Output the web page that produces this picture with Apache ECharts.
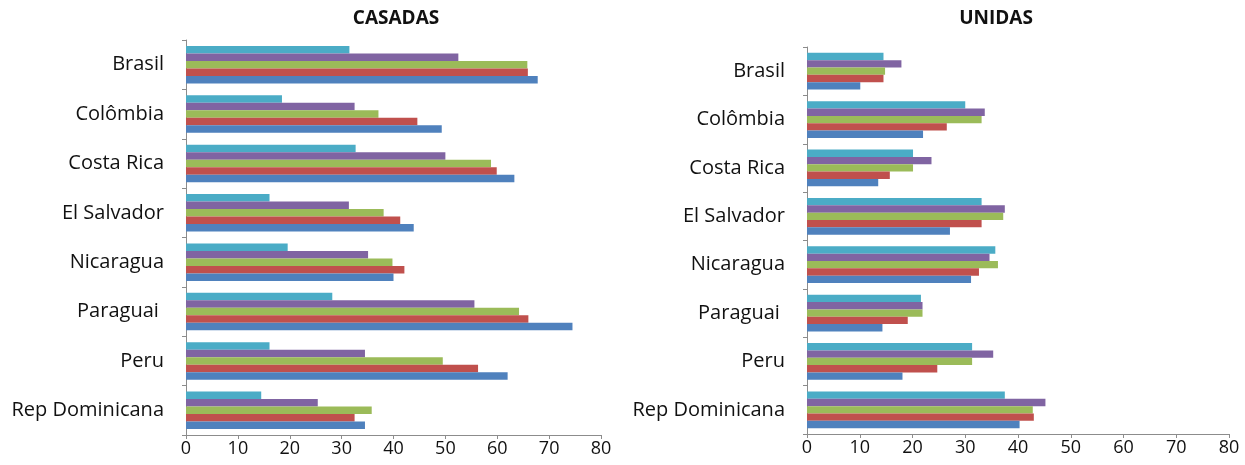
<!DOCTYPE html>
<html>
<head>
<meta charset="utf-8">
<script src="https://cdn.jsdelivr.net/npm/echarts@6/dist/echarts.min.js"></script>
<style>
  html, body { margin: 0; padding: 0; background: #fff; }
  #chart { width: 1245px; height: 465px; }
</style>
</head>
<body>
<div id="chart"></div>
<script>
// Countries, top to bottom
const categories = ['Brasil', 'Colômbia', 'Costa Rica', 'El Salvador', 'Nicaragua', 'Paraguai ', 'Peru', 'Rep Dominicana'];

// Percentages, one array per group (bottom bar of each cluster first)
const casadasS1 = [67.8, 49.3, 63.3, 43.9, 40.0, 74.5, 62.0, 34.5];
const casadasS2 = [65.9, 44.6, 59.9, 41.3, 42.1, 66.0, 56.3, 32.5];
const casadasS3 = [65.8, 37.1, 58.8, 38.1, 39.8, 64.2, 49.5, 35.8];
const casadasS4 = [52.5, 32.5, 50.0, 31.4, 35.1, 55.6, 34.5, 25.4];
const casadasS5 = [31.5, 18.5, 32.7, 16.1, 19.6, 28.2, 16.1, 14.5];

const unidasS1 = [10.1, 22.0, 13.5, 27.1, 31.1, 14.3, 18.1, 40.3];
const unidasS2 = [14.5, 26.5, 15.7, 33.1, 32.6, 19.1, 24.7, 43.0];
const unidasS3 = [14.8, 33.1, 20.1, 37.2, 36.2, 21.9, 31.3, 42.8];
const unidasS4 = [17.9, 33.7, 23.6, 37.5, 34.6, 21.9, 35.3, 45.2];
const unidasS5 = [14.5, 30.0, 20.1, 33.1, 35.7, 21.6, 31.3, 37.5];

const panelTitles = ['CASADAS', 'UNIDAS'];
const xTicks = { min: 0, max: 80, interval: 10 };

const colors = ['#4F81BD', '#C0504D', '#9BBB59', '#8064A2', '#4BACC6'];
const FONT = '"Open Sans"';

const casadas = [casadasS1, casadasS2, casadasS3, casadasS4, casadasS5];
const unidas = [unidasS1, unidasS2, unidasS3, unidasS4, unidasS5];

function xAxisFor(gridIndex) {
  return {
    type: 'value', gridIndex,
    min: xTicks.min, max: xTicks.max, interval: xTicks.interval,
    splitLine: { show: false },
    axisLine: { show: true, lineStyle: { color: '#8c8c8c', width: 1 } },
    axisTick: { show: true, length: 4, lineStyle: { color: '#8c8c8c' } },
    axisLabel: { color: '#111', fontFamily: FONT, fontSize: 18, margin: 5 }
  };
}
function yAxisFor(gridIndex) {
  return {
    type: 'category', gridIndex, data: categories, inverse: true,
    axisLine: { show: true, lineStyle: { color: '#8c8c8c', width: 1 } },
    axisTick: { show: true, length: 4, lineStyle: { color: '#8c8c8c' } },
    axisLabel: { color: '#111', fontFamily: FONT, fontSize: 20, margin: 22 }
  };
}

// With an inverted category axis the first series sits at the top of each
// cluster, so add them last-to-first to keep the blue bar at the bottom.
const series = [];
[casadas, unidas].forEach((group, gi) => {
  for (let si = group.length - 1; si >= 0; si--) {
    series.push({
      type: 'bar', xAxisIndex: gi, yAxisIndex: gi,
      name: 'S' + (si + 1),
      data: group[si],
      barGap: '0%', barCategoryGap: '24%',
      itemStyle: { color: colors[si] },
      silent: true
    });
  }
});

const titleStyle = { fontFamily: FONT, fontWeight: 'bold', fontSize: 19, color: '#111' };

const chart = echarts.init(document.getElementById('chart'), null, { renderer: 'canvas' });
chart.setOption({
  animation: false,
  backgroundColor: '#fff',
  title: [
    { text: panelTitles[0], left: 391, top: 4, textAlign: 'center', textStyle: titleStyle },
    { text: panelTitles[1], left: 991, top: 4, textAlign: 'center', textStyle: titleStyle }
  ],
  grid: [
    { left: 186, top: 40, width: 415, height: 395, containLabel: false },
    { left: 807, top: 47, width: 422, height: 387, containLabel: false }
  ],
  xAxis: [xAxisFor(0), xAxisFor(1)],
  yAxis: [yAxisFor(0), yAxisFor(1)],
  series
});
</script>
</body>
</html>
